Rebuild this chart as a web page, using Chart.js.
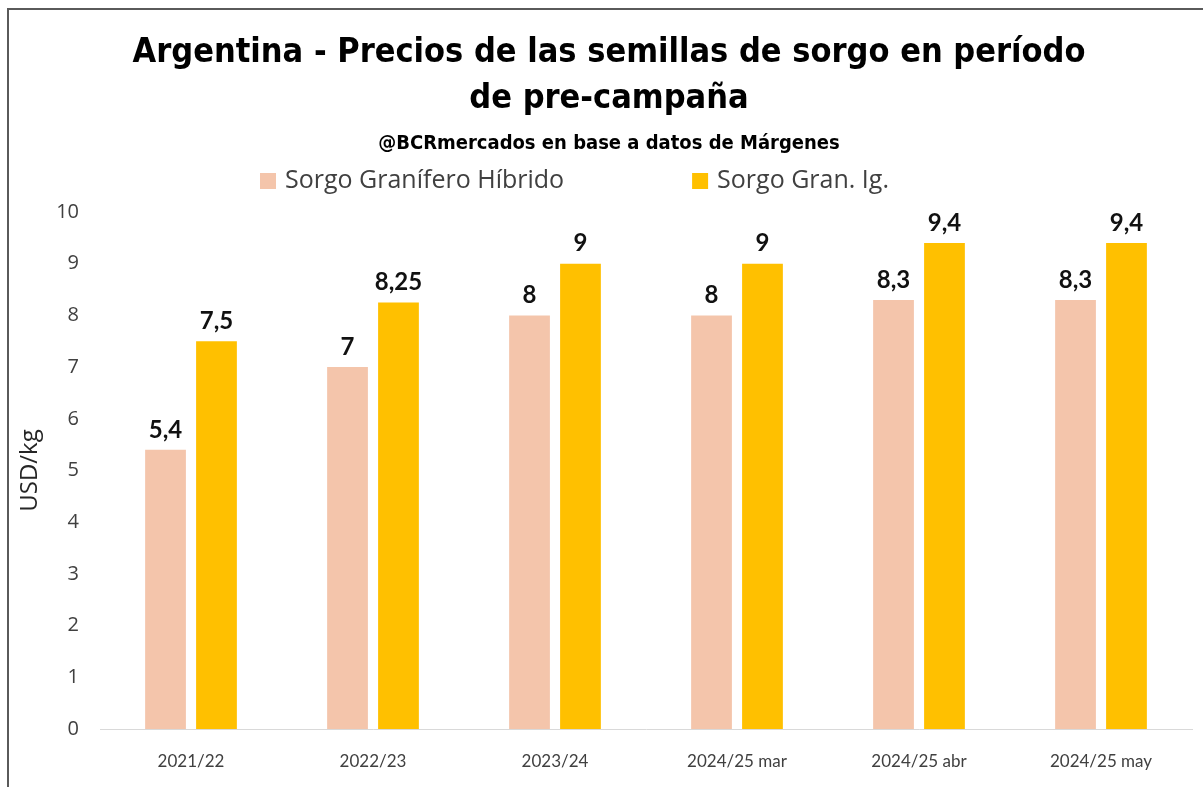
<!DOCTYPE html>
<html><head><meta charset="utf-8">
<script src="https://cdn.jsdelivr.net/npm/chart.js@4.4.1/dist/chart.umd.min.js"></script>
<style>html,body{margin:0;padding:0;background:#fff;} #wrap{width:1203px;height:787px;position:relative;}</style>
</head><body><div id="wrap"><canvas id="c" width="1203" height="787"></canvas></div>
<script>
const categories = ['2021/22', '2022/23', '2023/24', '2024/25 mar', '2024/25 abr', '2024/25 may'];
const hibrido = [5.4, 7, 8, 8, 8.3, 8.3];
const granIg = [7.5, 8.25, 9, 9, 9.4, 9.4];
const seriesNames = ['Sorgo Granífero Híbrido', 'Sorgo Gran. Ig.'];
const yMin = 0, yMax = 10, yStep = 1;
const titleLines = ['Argentina - Precios de las semillas de sorgo en período', 'de pre-campaña'];
const subtitleText = '@BCRmercados en base a datos de Márgenes';
const yAxisTitle = 'USD/kg';

const COND = "'DejaVu Sans Condensed','Liberation Sans Narrow',sans-serif";
const BODY = "Lato,'Open Sans',sans-serif";
const WIDE = "'Open Sans',Lato,sans-serif";
const colors = ['#F4C5AB', '#FFC000'];

const frame = {
  id: 'frame',
  beforeDraw(chart) {
    const ctx = chart.ctx;
    ctx.save();
    ctx.fillStyle = '#fff';
    ctx.fillRect(0, 0, chart.width, chart.height);
    ctx.fillStyle = '#5a5a5a';
    ctx.fillRect(7, 8, 2, chart.height - 8);
    ctx.fillRect(7, 8, chart.width - 7, 2);
    ctx.restore();
  }
};

const legendDraw = {
  id: 'legendDraw',
  afterDraw(chart) {
    const ctx = chart.ctx;
    ctx.save();
    ctx.font = '25px ' + WIDE;
    ctx.textBaseline = 'middle';
    let x = 260;
    const yc = 181;
    chart.data.datasets.forEach((ds, i) => {
      ctx.fillStyle = ds.backgroundColor;
      ctx.fillRect(x, yc - 8, 16, 16);
      ctx.fillStyle = '#404040';
      ctx.fillText(ds.label, x + 25, yc);
      x += 25 + ctx.measureText(ds.label).width + 128;
    });
    ctx.restore();
  }
};

const valueLabels = {
  id: 'valueLabels',
  afterDatasetsDraw(chart) {
    const ctx = chart.ctx;
    ctx.save();
    ctx.font = 'bold 24px ' + BODY;
    ctx.fillStyle = '#111';
    ctx.textAlign = 'center';
    ctx.textBaseline = 'bottom';
    chart.data.datasets.forEach((ds, di) => {
      chart.getDatasetMeta(di).data.forEach((bar, i) => {
        ctx.fillText(String(ds.data[i]).replace('.', ','), bar.x, bar.y - 8);
      });
    });
    ctx.restore();
  }
};

new Chart(document.getElementById('c'), {
  type: 'bar',
  data: {
    labels: categories,
    datasets: [
      { label: seriesNames[0], data: hibrido, backgroundColor: colors[0] },
      { label: seriesNames[1], data: granIg, backgroundColor: colors[1] }
    ]
  },
  options: {
    responsive: false,
    devicePixelRatio: 1,
    animation: false,
    categoryPercentage: 0.56,
    barPercentage: 0.8,
    layout: { padding: { left: 26, right: 11, top: 0, bottom: 0 } },
    plugins: {
      legend: { display: false },
      tooltip: { enabled: false },
      title: {
        display: true,
        text: titleLines,
        color: '#000',
        font: { family: COND, size: 34, weight: 'bold', lineHeight: 1.353 },
        padding: { top: 30, bottom: 0 }
      },
      subtitle: {
        display: true,
        text: subtitleText,
        color: '#000',
        font: { family: COND, size: 20, weight: 'bold', lineHeight: 1.2 },
        padding: { top: 10, bottom: 56 }
      }
    },
    scales: {
      x: {
        grid: { display: false, drawTicks: false },
        border: { display: true, color: '#d9d9d9', width: 1 },
        ticks: { color: '#404040', font: { family: BODY, size: 17 }, padding: 22, maxRotation: 0 },
        afterFit(s) { s.height = 58; }
      },
      y: {
        min: yMin, max: yMax,
        grid: { display: false, drawTicks: false },
        border: { display: false },
        ticks: { stepSize: yStep, color: '#404040', font: { family: WIDE, size: 20 }, padding: 21 },
        title: { display: true, text: yAxisTitle, color: '#262626', font: { family: WIDE, size: 24 }, padding: { top: -10, bottom: 0 } },
        afterFit(s) { s.width = 74; }
      }
    }
  },
  plugins: [frame, legendDraw, valueLabels]
});
</script></body></html>
